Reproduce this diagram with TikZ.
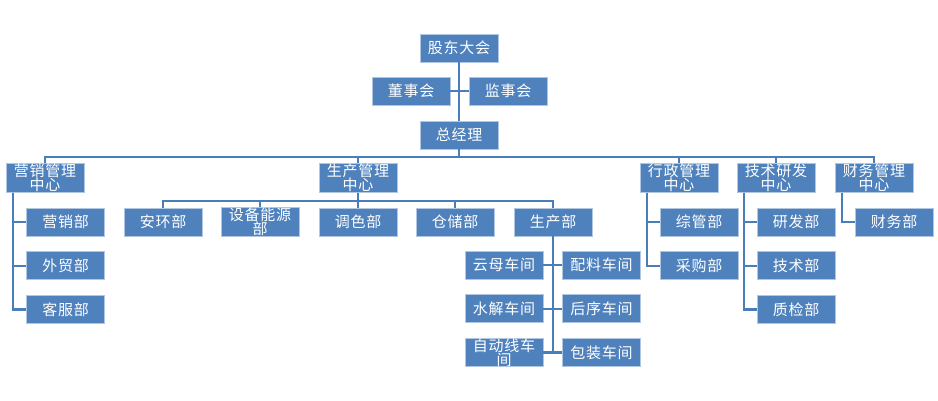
\documentclass[tikz,border=0pt]{standalone}
\usepackage{fontspec}
\newfontfamily\cjk[LetterSpace=5]{Noto Sans CJK SC}
\usetikzlibrary{positioning}
\definecolor{boxblue}{HTML}{4F81BD}
\definecolor{lineblue}{HTML}{4A7EBB}

\begin{document}
\begin{tikzpicture}[
    x=1pt, y=-1pt,
    cell/.style={draw=white!55!boxblue, line width=0.7pt, fill=boxblue,
        minimum width=78pt, minimum height=28pt, inner sep=0pt,
        align=center, text=white, font=\cjk\fontsize{15}{14.5}\selectfont},
    conn/.style={draw=lineblue, line width=2.3pt}
]
    \useasboundingbox (0,0) rectangle (938,400);

    % Top
    \node [cell] (gd) at (459,48) {股东大会};
    \node [cell] (dsh) at (411,91) {董事会};
    \node [cell] (jsh) at (508,91) {监事会};
    \node [cell] (zjl) at (459,135) {总经理};

    % Centres
    \node [cell] (yx) at (45,178) {营销管理\\中心};
    \node [cell] (sc) at (358,178) {生产管理\\中心};
    \node [cell] (xz) at (679,178) {行政管理\\中心};
    \node [cell] (js) at (776,178) {技术研发\\中心};
    \node [cell] (cw) at (874,178) {财务管理\\中心};

    % Marketing
    \node [cell] (yx1) at (65.5,222) {营销部};
    \node [cell, below=15pt of yx1] (yx2) {外贸部};
    \node [cell, below=15pt of yx2] (yx3) {客服部};

    % Production
    \node [cell] (ah) at (163,222) {安环部};
    \node [cell] (sb) at (260,222) {设备能源\\部};
    \node [cell] (ts) at (358,222) {调色部};
    \node [cell] (cc) at (455,222) {仓储部};
    \node [cell] (scb) at (553,222) {生产部};

    % Workshops
    \node [cell] (ym) at (504,265) {云母车间};
    \node [cell, below=15pt of ym] (sj) {水解车间};
    \node [cell, below=15pt of sj] (zd) {自动线车\\间};
    \node [cell] (pl) at (601.5,265) {配料车间};
    \node [cell, below=15pt of pl] (hx) {后序车间};
    \node [cell, below=15pt of hx] (bz) {包装车间};

    % Administration, R&D, finance
    \node [cell] (xz1) at (699,222) {综管部};
    \node [cell, below=15pt of xz1] (xz2) {采购部};
    \node [cell] (js1) at (796,222) {研发部};
    \node [cell, below=15pt of js1] (js2) {技术部};
    \node [cell, below=15pt of js2] (js3) {质检部};
    \node [cell] (cw1) at (894,222) {财务部};

    % Connectors, top
    \draw[conn] (gd.south) -- (zjl.north);
    \draw[conn] (dsh.east) -- (jsh.west);

    \coordinate (bus) at (459,157);
    \draw[conn] (zjl.south) -- (bus);
    \foreach \c in {yx,sc,xz,js,cw} {
        \draw[conn] (bus) -| (\c.north);
    }

    \coordinate (scbus) at (358,201);
    \draw[conn] (sc.south) -- (scbus);
    \foreach \c in {ah,sb,ts,cc,scb} {
        \draw[conn] (scbus) -| (\c.north);
    }

    % Side branches
    \foreach \c in {yx1,yx2,yx3} {
        \draw[conn] ([xshift=7pt]yx.south west) |- (\c.west);
    }
    \foreach \c in {xz1,xz2} {
        \draw[conn] ([xshift=7pt]xz.south west) |- (\c.west);
    }
    \foreach \c in {js1,js2,js3} {
        \draw[conn] ([xshift=7pt]js.south west) |- (\c.west);
    }
    \draw[conn] ([xshift=7pt]cw.south west) |- (cw1.west);

    % Workshops on both sides
    \draw[conn] (scb.south) -- (scb.south |- bz.west);
    \foreach \l/\r in {ym/pl, sj/hx, zd/bz} {
        \draw[conn] (\l.east) -- (\l.east -| scb.south);
        \draw[conn] (\r.west -| scb.south) -- (\r.west);
    }

\end{tikzpicture}
\end{document}
